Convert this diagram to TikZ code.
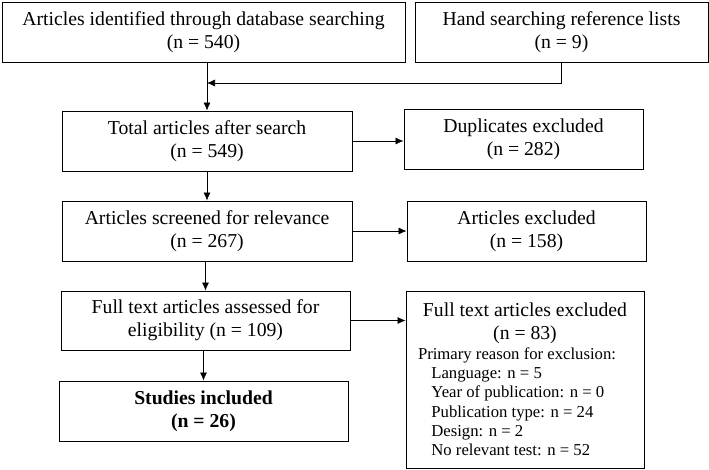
\documentclass[tikz,border=0pt]{standalone}
\usepackage{fontspec}
\setmainfont{Liberation Serif}
\usetikzlibrary{positioning,arrows.meta}

\begin{document}
\begin{tikzpicture}[x=1pt,y=-1pt,
  box/.style={draw,line width=0.9pt,align=center,inner sep=2pt,
    font=\fontsize{19.7}{23}\selectfont},
  link/.style={-{Latex[length=8pt,width=7pt]},line width=0.6pt}]
\useasboundingbox (0,0) rectangle (709,469);
% search stage
\node (found) at (203.5,32) [box,minimum width=403pt,minimum height=60pt] {Articles identified through database searching\\(n = 540)};
\node (hand) at (561.5,32) [box,minimum width=293pt,minimum height=60pt] {Hand searching reference lists\\(n = 9)};
\node (total) at (207,141) [box,minimum width=290pt,minimum height=60pt] {Total articles after search\\(n = 549)};
\node (dupl) at (523.5,139) [box,minimum width=239pt,minimum height=60pt] {Duplicates excluded\\(n = 282)};
% screening
\node (screen) at (207,231) [box,minimum width=290pt,minimum height=60pt] {Articles screened for relevance\\(n = 267)};
\node (excl) at (526.5,231) [box,minimum width=239pt,minimum height=60pt] {Articles excluded\\(n = 158)};
\node (full) at (205.5,320.5) [box,minimum width=289pt,minimum height=59pt] {Full text articles assessed for\\eligibility (n = 109)};
\node (fullex) at (525,379.5) [box,minimum width=238pt,minimum height=177pt] {\parbox{214pt}{\centering Full text articles excluded\\(n = 83)\par
  \raggedright\fontsize{16.7}{19.3}\selectfont
  Primary reason for exclusion:\\
  \hspace*{0.8em}Language: n = 5\\
  \hspace*{0.8em}Year of publication: n = 0\\
  \hspace*{0.8em}Publication type: n = 24\\
  \hspace*{0.8em}Design: n = 2\\
  \hspace*{0.8em}No relevant test: n = 52}};
\node (incl) at (203.5,411) [box,minimum width=289pt,minimum height=60pt] {\textbf{Studies included}\\\textbf{(n = 26)}};
\coordinate (join) at (207,83);
\draw[link] (hand.south) |- (join);
\draw[link] (total.north |- found.south) -- (total.north);
\draw[link] (total.east) -- (total.east -| dupl.west);
\draw[link] (screen.north |- total.south) -- (screen.north);
\draw[link] (screen.east) -- (screen.east -| excl.west);
\draw[link] (full.north |- screen.south) -- (full.north);
\draw[link] (full.east) -- (full.east -| fullex.west);
\draw[link] (incl.north |- full.south) -- (incl.north);
\end{tikzpicture}
\end{document}
